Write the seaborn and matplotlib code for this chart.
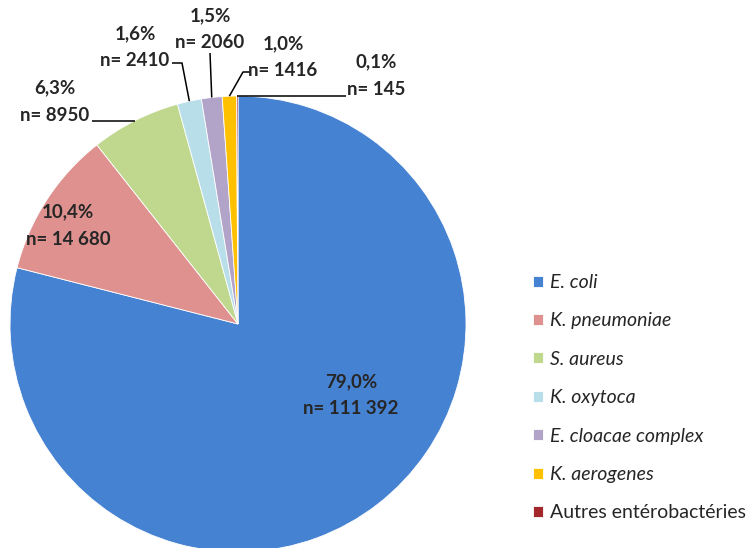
import numpy as np
import matplotlib
matplotlib.use("Agg")
import matplotlib.pyplot as plt
import seaborn as sns

# ================= DATA =================
species = ["E. coli", "K. pneumoniae", "S. aureus", "K. oxytoca",
           "E. cloacae complex", "K. aerogenes", "Autres entérobactéries"]
counts = [111392, 14680, 8950, 2410, 2060, 1416, 145]
pct_labels = ["79,0%", "10,4%", "6,3%", "1,6%", "1,5%", "1,0%", "0,1%"]
n_labels = ["n= 111 392", "n= 14 680", "n= 8950", "n= 2410",
            "n= 2060", "n= 1416", "n= 145"]
colors = ["#4682D2", "#DE918F", "#C0D78E", "#B8DEEA",
          "#B2A3C8", "#FFC000", "#A3262C"]

# ================= STYLE =================
sns.set_theme(style="white")
plt.rcParams["font.family"] = ["Lato", "DejaVu Sans"]

W, H = 753, 548
fig = plt.figure(figsize=(W / 100, H / 100), dpi=100)
ax = fig.add_axes([0, 0, 1, 1])

# pie placed in pixel units (y measured from bottom)
cx, cy, r = 238, H - 324, 228
wedges, _ = ax.pie(counts, colors=colors, startangle=90, counterclock=False,
                   center=(cx, cy), radius=r, frame=True,
                   wedgeprops=dict(linewidth=0.6, edgecolor="white"))
ax.set_xlim(0, W)
ax.set_ylim(0, H)
ax.set_aspect("equal")
ax.axis("off")

lab_kw = dict(fontsize=13.5, fontweight="bold", color="#262626",
              ha="center", va="center", linespacing=1.75)

# labels inside the two biggest slices
ax.text(351, H - 395, pct_labels[0] + "\n" + n_labels[0], **lab_kw)
ax.text(68, H - 226, pct_labels[1] + "\n" + n_labels[1], **lab_kw)


def edge_point(i):
    w = wedges[i]
    mid = np.deg2rad((w.theta1 + w.theta2) / 2)
    return cx + r * np.cos(mid), cy + r * np.sin(mid)


# outside labels: text centre, elbow points (pixels from top)
outside = {
    2: ((55, 102), [(92, 117)]),
    3: ((135, 47), [(172, 63), (182, 63)]),
    4: ((210, 29), [(210, 53)]),
    5: ((283, 57), [(251, 72), (243, 72)]),
    6: ((376, 76), [(346, 95)]),
}
for i, (txt, elbows) in outside.items():
    ax.text(txt[0], H - txt[1], pct_labels[i] + "\n" + n_labels[i], **lab_kw)
    ex, ey = edge_point(i)
    xs = [p[0] for p in elbows]
    ys = [H - p[1] for p in elbows]
    if i in (2, 6):
        ys[0] = ey
    xs.append(ex)
    ys.append(ey)
    ax.plot(xs, ys, color="black", lw=1.1, solid_capstyle="butt")

# ================= LEGEND =================
leg = ax.legend(wedges, species, loc="upper left",
                bbox_to_anchor=(533 / W, 1 - 274 / H),
                bbox_transform=fig.transFigure, frameon=False,
                fontsize=14, handlelength=0.5, handleheight=0.5,
                handletextpad=0.35, labelspacing=1.1, borderpad=0,
                borderaxespad=0)
for t in leg.get_texts()[:-1]:
    t.set_style("italic")
for t in leg.get_texts():
    t.set_color("#262626")

fig.savefig("out.png", dpi=100)
